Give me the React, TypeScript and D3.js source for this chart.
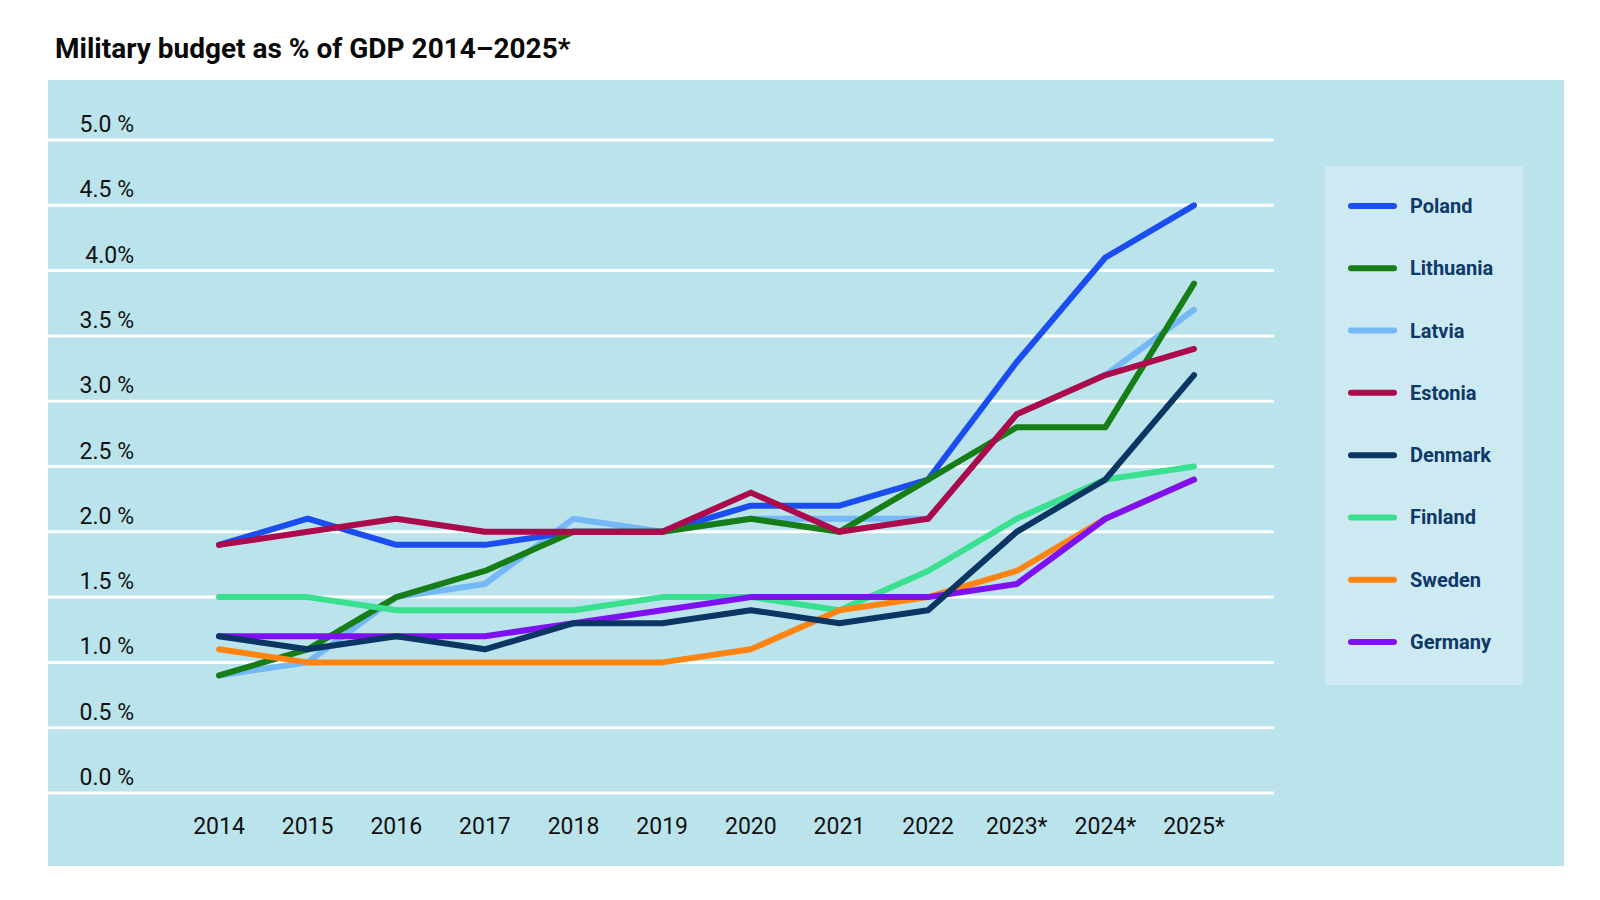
import React from "react";
import * as d3 from "d3";

const years = ["2014", "2015", "2016", "2017", "2018", "2019", "2020", "2021", "2022", "2023*", "2024*", "2025*"];
const yTicks = [0, 0.5, 1, 1.5, 2, 2.5, 3, 3.5, 4, 4.5, 5];
const yTickLabels = ["0.0 %", "0.5 %", "1.0 %", "1.5 %", "2.0 %", "2.5 %", "3.0 %", "3.5 %", "4.0%", "4.5 %", "5.0 %"];

const poland = [1.9, 2.1, 1.9, 1.9, 2.0, 2.0, 2.2, 2.2, 2.4, 3.3, 4.1, 4.5];
const lithuania = [0.9, 1.1, 1.5, 1.7, 2.0, 2.0, 2.1, 2.0, 2.4, 2.8, 2.8, 3.9];
const latvia = [0.9, 1.0, 1.5, 1.6, 2.1, 2.0, 2.1, 2.1, 2.1, 2.9, 3.2, 3.7];
const estonia = [1.9, 2.0, 2.1, 2.0, 2.0, 2.0, 2.3, 2.0, 2.1, 2.9, 3.2, 3.4];
const denmark = [1.2, 1.1, 1.2, 1.1, 1.3, 1.3, 1.4, 1.3, 1.4, 2.0, 2.4, 3.2];
const finland = [1.5, 1.5, 1.4, 1.4, 1.4, 1.5, 1.5, 1.4, 1.7, 2.1, 2.4, 2.5];
const sweden = [1.1, 1.0, 1.0, 1.0, 1.0, 1.0, 1.1, 1.4, 1.5, 1.7, 2.1, 2.4];
const germany = [1.2, 1.2, 1.2, 1.2, 1.3, 1.4, 1.5, 1.5, 1.5, 1.6, 2.1, 2.4];

const legendOrder = ["Poland", "Lithuania", "Latvia", "Estonia", "Denmark", "Finland", "Sweden", "Germany"];
const drawOrder = ["Latvia", "Poland", "Lithuania", "Estonia", "Finland", "Sweden", "Germany", "Denmark"];

const seriesValues: Record<string, number[]> = {
  Poland: poland,
  Lithuania: lithuania,
  Latvia: latvia,
  Estonia: estonia,
  Denmark: denmark,
  Finland: finland,
  Sweden: sweden,
  Germany: germany,
};

const seriesColors: Record<string, string> = {
  Poland: "#1b4ef0",
  Lithuania: "#177e17",
  Latvia: "#74b8f6",
  Estonia: "#ad0a4b",
  Denmark: "#0b3562",
  Finland: "#38e08f",
  Sweden: "#ff8412",
  Germany: "#7f10f3",
};

export default function App() {
  const W = 1600;
  const H = 900;
  const panel = { x: 48, y: 80, w: 1516, h: 786 };
  const gridX0 = 48;
  const gridX1 = 1274;

  const x = d3.scalePoint<string>().domain(years).range([219, 1194]);
  const y = d3.scaleLinear().domain([0, 5]).range([793, 140]);

  const line = d3
    .line<number>()
    .x((_, i) => x(years[i]) as number)
    .y((d) => y(d));

  const legend = { x: 1325, y: 166, w: 198, h: 519 };
  const legendRowY = d3.scalePoint<string>().domain(legendOrder).range([206, 642]);

  const font = "Roboto, 'Noto Sans', sans-serif";

  return (
    <svg
      width={W}
      height={H}
      viewBox={`0 0 ${W} ${H}`}
      style={{ position: "absolute", left: 0, top: 0, background: "#ffffff" }}
    >
      <rect x={0} y={0} width={W} height={H} fill="#ffffff" />
      <text x={55} y={58} fontFamily={font} fontWeight={700} fontSize={28} fill="#0a0a0a">
        Military budget as % of GDP 2014–2025*
      </text>
      <rect x={panel.x} y={panel.y} width={panel.w} height={panel.h} fill="#bae3eb" />

      {yTicks.map((t, i) => (
        <g key={"g" + t}>
          <line x1={gridX0} x2={gridX1} y1={y(t)} y2={y(t)} stroke="#ffffff" strokeWidth={3} />
          <text
            x={134}
            y={y(t) - 8}
            textAnchor="end"
            fontFamily={font}
            fontSize={23}
            fill="#111111"
          >
            {yTickLabels[i]}
          </text>
        </g>
      ))}

      {years.map((yr) => (
        <text
          key={yr}
          x={x(yr) as number}
          y={834}
          textAnchor="middle"
          fontFamily={font}
          fontSize={23}
          fill="#111111"
        >
          {yr}
        </text>
      ))}

      {drawOrder.map((name) => (
        <path
          key={name}
          d={line(seriesValues[name]) || ""}
          fill="none"
          stroke={seriesColors[name]}
          strokeWidth={6}
          strokeLinejoin="round"
          strokeLinecap="round"
        />
      ))}

      <rect x={legend.x} y={legend.y} width={legend.w} height={legend.h} fill="#cdeaf2" />
      {legendOrder.map((name) => {
        const ly = legendRowY(name) as number;
        return (
          <g key={"l" + name}>
            <line
              x1={1351}
              x2={1394}
              y1={ly}
              y2={ly}
              stroke={seriesColors[name]}
              strokeWidth={6}
              strokeLinecap="round"
            />
            <text
              x={1410}
              y={ly}
              dy="0.35em"
              fontFamily={font}
              fontWeight={700}
              fontSize={20}
              fill="#0d3868"
            >
              {name}
            </text>
          </g>
        );
      })}
    </svg>
  );
}
